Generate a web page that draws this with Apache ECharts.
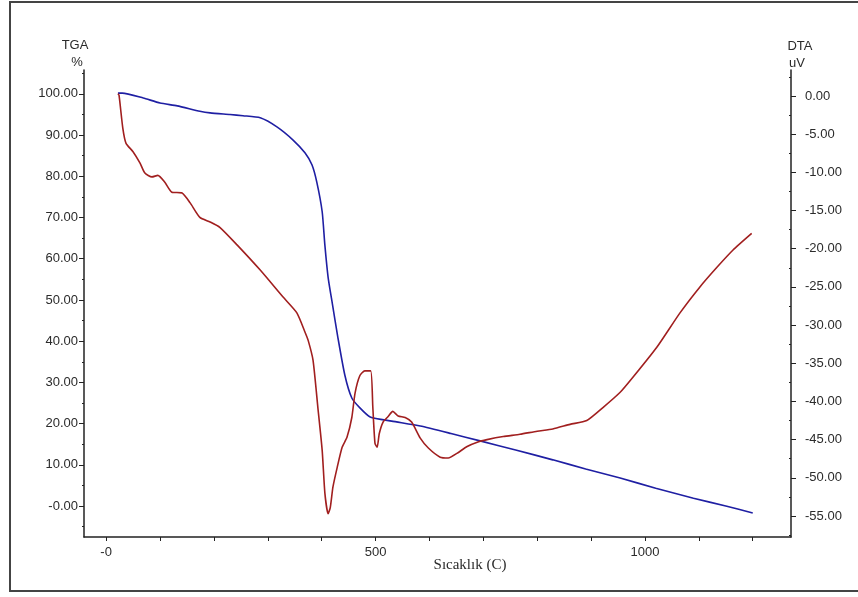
<!DOCTYPE html>
<html>
<head>
    <meta charset="UTF-8">
    <title>TGA / DTA</title>
    <style>
        html, body { margin: 0; padding: 0; background: #fff; }
        #chart { width: 858px; height: 597px; }
    </style>
    <script src="https://cdn.jsdelivr.net/npm/echarts@6/dist/echarts.min.js"></script>
</head>
<body>
<div id="chart"></div>
<script>
    // TGA (blue, left axis, %)
    var tgaTemp = [22, 30, 69, 100, 132, 174, 193, 230, 254, 286, 317, 347, 369, 382, 391, 401, 406, 412, 420, 430, 443, 456, 471, 490, 530, 583, 640, 694, 760, 829, 890, 954, 1020, 1090, 1150, 1200];
    var tgaVal  = [100.2, 100.2, 99.0, 97.8, 97.1, 95.8, 95.4, 95.0, 94.7, 94.2, 92.0, 88.8, 85.7, 82.8, 78.6, 71.4, 63.3, 55.5, 49.0, 41.0, 31.8, 26.2, 23.8, 21.6, 20.6, 19.4, 17.6, 15.8, 13.6, 11.2, 9.0, 6.8, 4.3, 1.9, 0.0, -1.7];

    // DTA (red, right axis, uV)
    var dtaTemp = [22, 24, 31, 37, 50, 63, 72, 85, 96, 109, 122, 141, 156, 174, 193, 211, 243, 286, 328, 354, 369, 375, 384, 393, 401, 406, 412, 416, 421, 429, 438, 447, 456, 462, 471, 480, 491, 495, 499, 503, 507, 514, 523, 532, 542, 555, 567, 583, 598, 620, 635, 651, 670, 690, 707, 737, 768, 800, 829, 861, 892, 922, 954, 978, 1022, 1065, 1102, 1134, 1163, 1198];
    var dtaVal  = [0.3, 0.1, -4.2, -6.2, -7.3, -8.8, -10.1, -10.6, -10.4, -11.3, -12.6, -12.7, -14.0, -15.9, -16.5, -17.2, -19.5, -22.8, -26.3, -28.4, -30.9, -32.0, -34.6, -40.8, -46.4, -52.0, -54.7, -53.9, -51.2, -48.6, -46.0, -44.7, -42.1, -38.9, -36.6, -36.0, -36.0, -40.8, -45.5, -46.0, -44.2, -42.7, -42.0, -41.3, -41.9, -42.1, -42.7, -44.8, -46.1, -47.3, -47.4, -46.8, -45.9, -45.3, -45.0, -44.6, -44.3, -43.9, -43.6, -43.0, -42.5, -40.8, -38.8, -36.8, -32.9, -28.4, -25.0, -22.4, -20.2, -18.0];

    // ticks and labels
    var xTicks = [0, 100, 200, 300, 400, 500, 600, 700, 800, 900, 1000, 1100, 1200];
    var xLabels = [0, 500, 1000];
    var tgaLabels = [0, 10, 20, 30, 40, 50, 60, 70, 80, 90, 100];
    var tgaMinor = [-5, 5, 15, 25, 35, 45, 55, 65, 75, 85, 95, 105];
    var dtaLabels = [0, -5, -10, -15, -20, -25, -30, -35, -40, -45, -50, -55];
    var dtaMinor = [2.5, -2.5, -7.5, -12.5, -17.5, -22.5, -27.5, -32.5, -37.5, -42.5, -47.5, -52.5, -57.5];

    function pairs(xs, ys) {
        var out = [];
        for (var i = 0; i < xs.length; i++) out.push([xs[i], ys[i]]);
        return out;
    }

    var axisColor = '#222';
    var labelStyle = { color: '#2b2b2b', fontSize: 13, fontFamily: 'Liberation Sans, Arial, sans-serif' };

    var chart = echarts.init(document.getElementById('chart'));
    var option = {
        backgroundColor: '#fff',
        animation: false,
        grid: { left: 84, right: 67, top: 70, bottom: 60, containLabel: false },
        graphic: [
            { type: 'rect', shape: { x: 10, y: 2, width: 880, height: 589 },
              style: { fill: 'none', stroke: '#444', lineWidth: 2 }, silent: true },
            { type: 'text', x: 75, y: 45, style: { text: 'TGA', fill: '#2b2b2b', font: '13px Liberation Sans', align: 'center', verticalAlign: 'middle' } },
            { type: 'text', x: 77, y: 62, style: { text: '%', fill: '#2b2b2b', font: '13px Liberation Sans', align: 'center', verticalAlign: 'middle' } },
            { type: 'text', x: 800, y: 46, style: { text: 'DTA', fill: '#2b2b2b', font: '13px Liberation Sans', align: 'center', verticalAlign: 'middle' } },
            { type: 'text', x: 797, y: 63, style: { text: 'uV', fill: '#2b2b2b', font: '13px Liberation Sans', align: 'center', verticalAlign: 'middle' } },
            { type: 'text', x: 470, y: 565, style: { text: 'Sıcaklık (C)', fill: '#2b2b2b', font: '15px Liberation Serif', align: 'center', verticalAlign: 'middle' } }
        ],
        xAxis: {
            type: 'value',
            min: -41,
            max: 1271,
            axisLine: { onZero: false, lineStyle: { color: axisColor, width: 1.5 } },
            axisTick: { show: true, length: 4, customValues: xTicks, lineStyle: { color: axisColor } },
            axisLabel: Object.assign({ margin: 9, customValues: xLabels,
                formatter: function (v) { return v === 0 ? '-0' : String(v); } }, labelStyle),
            splitLine: { show: false }
        },
        yAxis: [
            {
                type: 'value', position: 'left', min: -7.52, max: 105.8,
                axisLine: { show: true, onZero: false, lineStyle: { color: axisColor, width: 1.5 } },
                axisTick: { show: true, length: 5, customValues: tgaLabels, lineStyle: { color: axisColor } },
                axisLabel: Object.assign({ margin: 6, customValues: tgaLabels,
                    formatter: function (v) { return v === 0 ? '-0.00' : v.toFixed(2); } }, labelStyle),
                splitLine: { show: false }
            },
            {
                type: 'value', position: 'right', min: -57.75, max: 3.4,
                axisLine: { show: true, onZero: false, lineStyle: { color: axisColor, width: 1.5 } },
                axisTick: { show: true, length: 5, customValues: dtaLabels, lineStyle: { color: axisColor } },
                axisLabel: Object.assign({ margin: 14, customValues: dtaLabels,
                    formatter: function (v) { return v.toFixed(2); } }, labelStyle),
                splitLine: { show: false }
            },
            {
                type: 'value', position: 'left', min: -7.52, max: 105.8,
                axisLine: { show: false, onZero: false },
                axisTick: { show: true, length: 2, customValues: tgaMinor, lineStyle: { color: axisColor } },
                axisLabel: { show: false },
                splitLine: { show: false }
            },
            {
                type: 'value', position: 'right', min: -57.75, max: 3.4,
                axisLine: { show: false, onZero: false },
                axisTick: { show: true, inside: true, length: 2, customValues: dtaMinor, lineStyle: { color: axisColor } },
                axisLabel: { show: false },
                splitLine: { show: false }
            }
        ],
        series: [
            {
                name: 'TGA',
                type: 'line',
                yAxisIndex: 0,
                showSymbol: false,
                smooth: 0.2,
                lineStyle: { color: '#1f1fa3', width: 1.6 },
                itemStyle: { color: '#1f1fa3' },
                data: pairs(tgaTemp, tgaVal)
            },
            {
                name: 'DTA',
                type: 'line',
                yAxisIndex: 1,
                showSymbol: false,
                smooth: 0.2,
                lineStyle: { color: '#a11f1f', width: 1.6 },
                itemStyle: { color: '#a11f1f' },
                data: pairs(dtaTemp, dtaVal)
            }
        ]
    };
    chart.setOption(option);
</script>
</body>
</html>
